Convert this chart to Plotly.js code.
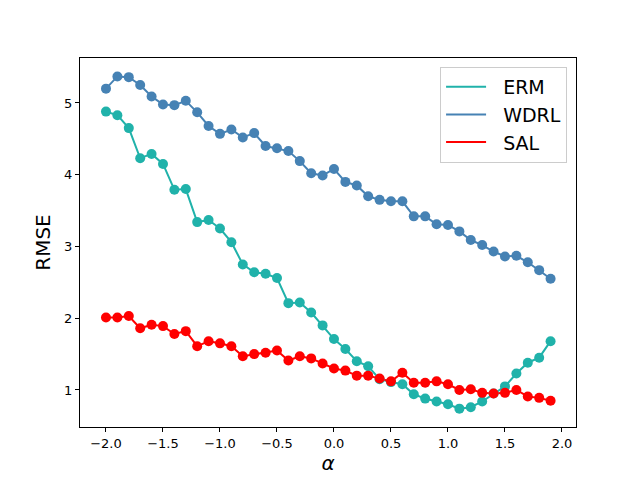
<!DOCTYPE html>
<html>
<head>
<meta charset="utf-8">
<script src="https://cdn.plot.ly/plotly-3.0.1.min.js"></script>
<style>
  html, body { margin: 0; padding: 0; background: #fff; }
  #chart { width: 640px; height: 480px; }
</style>
</head>
<body>
<div id="chart"></div>
<script>
// RMSE vs alpha for three methods
const alpha = [-2.0, -1.9, -1.8, -1.7, -1.6, -1.5, -1.4, -1.3, -1.2, -1.1,
               -1.0, -0.9, -0.8, -0.7, -0.6, -0.5, -0.4, -0.3, -0.2, -0.1,
                0.0,  0.1,  0.2,  0.3,  0.4,  0.5,  0.6,  0.7,  0.8,  0.9,
                1.0,  1.1,  1.2,  1.3,  1.4,  1.5,  1.6,  1.7,  1.8,  1.9];

const erm = [4.88, 4.83, 4.65, 4.23, 4.29, 4.15, 3.79, 3.80, 3.34, 3.37,
             3.25, 3.06, 2.75, 2.64, 2.62, 2.56, 2.21, 2.22, 2.08, 1.90,
             1.71, 1.57, 1.40, 1.33, 1.15, 1.11, 1.08, 0.94, 0.88, 0.84,
             0.80, 0.74, 0.76, 0.84, 0.95, 1.05, 1.23, 1.38, 1.45, 1.68];

const wdrl = [5.20, 5.37, 5.36, 5.25, 5.09, 4.98, 4.97, 5.03, 4.87, 4.68,
              4.57, 4.63, 4.52, 4.58, 4.40, 4.37, 4.33, 4.19, 4.02, 3.99,
              4.08, 3.90, 3.85, 3.70, 3.65, 3.63, 3.63, 3.42, 3.42, 3.31,
              3.30, 3.21, 3.09, 3.02, 2.93, 2.86, 2.87, 2.78, 2.67, 2.55];

const sal = [2.01, 2.01, 2.03, 1.86, 1.91, 1.89, 1.78, 1.82, 1.61, 1.68,
             1.65, 1.61, 1.47, 1.50, 1.52, 1.55, 1.41, 1.47, 1.44, 1.37,
             1.30, 1.27, 1.20, 1.20, 1.16, 1.12, 1.24, 1.10, 1.10, 1.12,
             1.08, 1.00, 1.01, 0.96, 0.95, 0.96, 1.00, 0.91, 0.89, 0.85];

const seriesNames = ['ERM', 'WDRL', 'SAL'];
const seriesValues = [erm, wdrl, sal];
const seriesColors = ['#20b2aa', '#4682b4', '#ff0000'];

const data = [];
// line traces carry the legend entries (legend shows plain lines only);
// leading nbsp widens the gap between legend line and label
seriesNames.forEach((name, i) => {
  data.push({
    type: 'scatter', mode: 'lines', name: '\u00a0\u00a0' + name,
    x: alpha, y: seriesValues[i],
    line: { color: seriesColors[i], width: 2 },
    legendgroup: name,
  });
});
seriesNames.forEach((name, i) => {
  data.push({
    type: 'scatter', mode: 'markers', name: name, showlegend: false,
    x: alpha, y: seriesValues[i],
    marker: { color: seriesColors[i], size: 10 },
    legendgroup: name,
  });
});

const axisBase = {
  showline: true, mirror: true, linecolor: '#000', linewidth: 1,
  showgrid: false, zeroline: false,
  ticks: 'outside', ticklen: 4, tickcolor: '#000', tickwidth: 1,
  tickfont: { family: 'DejaVu Sans', size: 13, color: '#000' },
};

const layout = {
  width: 640, height: 480,
  paper_bgcolor: '#fff', plot_bgcolor: '#fff',
  margin: { l: 80, r: 64, t: 58, b: 53 },
  font: { family: 'DejaVu Sans', color: '#000' },
  showlegend: true,
  xaxis: Object.assign({}, axisBase, {
    range: [-2.228, 2.123], dtick: 0.5, tick0: 0, tickformat: '.1f',
    title: { text: 'α', font: { family: 'DejaVu Sans', size: 20, style: 'italic' }, standoff: 6 },
  }),
  yaxis: Object.assign({}, axisBase, {
    range: [0.484, 5.627], dtick: 1, tick0: 0,
    title: { text: 'RMSE', font: { family: 'DejaVu Sans', size: 20 }, standoff: 8 },
  }),
  legend: {
    x: 0.982, y: 0.976, xanchor: 'right', yanchor: 'top',
    bgcolor: 'rgba(255,255,255,0.8)', bordercolor: '#cccccc', borderwidth: 1,
    font: { family: 'DejaVu Sans', size: 19, color: '#000' },
    itemwidth: 40, tracegroupgap: 0,
  },
};

Plotly.newPlot('chart', data, layout, { displayModeBar: false, staticPlot: true });
</script>
</body>
</html>
